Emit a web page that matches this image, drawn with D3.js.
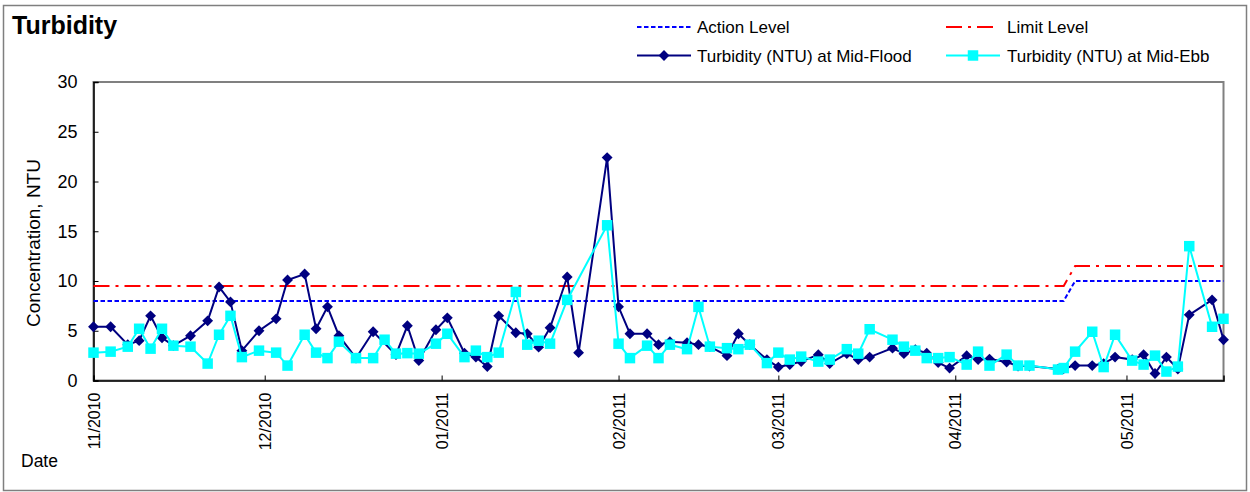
<!DOCTYPE html>
<html>
<head>
<meta charset="utf-8">
<script src="https://cdnjs.cloudflare.com/ajax/libs/d3/7.8.5/d3.min.js"></script>
<style>
  html, body { margin: 0; padding: 0; background: #fff; }
  svg { display: block; font-family: "Liberation Sans", Arial, sans-serif; }
</style>
</head>
<body>
<svg id="chart" width="1250" height="492"></svg>
<script>
// ---------- data ----------
const dates = [
  "2010-11-01","2010-11-04","2010-11-07","2010-11-09","2010-11-11","2010-11-13","2010-11-15","2010-11-18","2010-11-21","2010-11-23",
  "2010-11-25","2010-11-27","2010-11-30","2010-12-03","2010-12-05","2010-12-08","2010-12-10","2010-12-12","2010-12-14","2010-12-17",
  "2010-12-20","2010-12-22","2010-12-24","2010-12-26","2010-12-28","2010-12-31","2011-01-02","2011-01-05","2011-01-07","2011-01-09",
  "2011-01-11","2011-01-14","2011-01-16","2011-01-18","2011-01-20","2011-01-23","2011-01-25","2011-01-30","2011-02-01","2011-02-03",
  "2011-02-06","2011-02-08","2011-02-10","2011-02-13","2011-02-15","2011-02-17","2011-02-20","2011-02-22","2011-02-24","2011-02-27",
  "2011-03-01","2011-03-03","2011-03-05","2011-03-08","2011-03-10","2011-03-13","2011-03-15","2011-03-17","2011-03-21","2011-03-23",
  "2011-03-25","2011-03-27","2011-03-29","2011-03-31","2011-04-03","2011-04-05","2011-04-07","2011-04-10","2011-04-12","2011-04-14",
  "2011-04-19","2011-04-20","2011-04-22","2011-04-25","2011-04-27","2011-04-29","2011-05-02","2011-05-04","2011-05-06","2011-05-08",
  "2011-05-10","2011-05-12","2011-05-16","2011-05-18"
];
const floodValues = [
  5.4,5.4,3.6,4.0,6.5,4.3,3.5,4.5,6.0,9.4,
  7.9,3.0,5.0,6.2,10.1,10.7,5.2,7.4,4.5,2.25,
  4.9,null,2.6,5.5,2.0,5.1,6.3,2.75,2.35,1.4,
  6.5,4.8,4.7,3.35,5.3,10.4,2.8,22.4,7.4,4.7,
  4.7,3.6,3.9,3.8,3.6,3.4,2.5,4.7,3.6,2.1,
  1.35,1.6,1.9,2.6,1.7,2.7,2.1,2.35,3.25,2.7,
  3.1,2.75,1.8,1.25,2.5,2.1,2.15,1.85,1.45,1.45,
  1.15,1.2,1.5,1.5,1.7,2.35,2.1,2.6,0.7,2.35,
  1.15,6.6,8.1,4.1
];
const ebbValues = [
  2.8,2.9,3.4,5.2,3.2,5.2,3.5,3.4,1.7,4.6,
  6.5,2.35,3.0,2.8,1.5,4.6,2.8,2.25,3.9,2.25,
  2.25,4.1,2.7,2.75,2.7,3.7,4.7,2.35,3.0,2.35,
  2.8,8.9,3.6,4.0,3.7,8.1,null,15.6,3.7,2.25,
  3.5,2.25,3.6,3.15,7.4,3.4,3.25,3.15,3.6,1.75,
  2.8,2.1,2.4,1.9,2.1,3.15,2.7,5.15,4.1,3.4,
  3.0,2.25,2.25,2.35,1.6,2.9,1.5,2.6,1.5,1.5,
  1.1,1.25,2.9,4.9,1.35,4.6,2.0,1.6,2.5,0.9,
  1.4,13.5,5.4,6.2
];
const levelDates = ["2010-11-01","2011-04-20","2011-04-22","2011-05-18"];
const actionLevel = [8, 8, 10, 10];
const limitLevel = [9.5, 9.5, 11.5, 11.5];
const yTicks = [0, 5, 10, 15, 20, 25, 30];
const xDomain = ["2010-11-01", "2011-05-18"];
const legendLabels = ["Action Level", "Limit Level", "Turbidity (NTU) at Mid-Flood", "Turbidity (NTU) at Mid-Ebb"];

// ---------- chart ----------
(function () {
const parse = d3.timeParse("%Y-%m-%d");
const svg = d3.select("#chart");
const pL = 93.5, pR = 1223.5, pT = 82, pB = 380.5;

const x = d3.scaleTime().domain(xDomain.map(parse)).range([pL, pR]);
const y = d3.scaleLinear().domain([0, 30]).range([pB, pT]);

// outer frame
svg.append("rect").attr("x", 3.5).attr("y", 5.5).attr("width", 1243).attr("height", 485)
  .attr("fill", "#fff").attr("stroke", "#7f7f7f").attr("stroke-width", 1.5);

// plot area border
svg.append("rect").attr("x", pL).attr("y", pT).attr("width", pR - pL).attr("height", pB - pT)
  .attr("fill", "none").attr("stroke", "#808080").attr("stroke-width", 2);

// title
svg.append("text").attr("x", 12).attr("y", 34).attr("font-size", 25).attr("font-weight", "bold")
  .attr("fill", "#000").text("Turbidity");

// y axis
const yAxis = d3.axisLeft(y).tickValues(yTicks).tickSize(-5).tickPadding(16).tickFormat(d3.format("d"));
const gy = svg.append("g").attr("transform", `translate(${pL},0)`).call(yAxis);
gy.select(".domain").attr("stroke", "#000").attr("stroke-width", 1.5);
gy.selectAll(".tick line").attr("stroke", "#000");
gy.selectAll(".tick text").attr("font-size", 18).attr("font-family", "Liberation Sans, Arial, sans-serif").attr("fill", "#000");

// x axis
const xAxis = d3.axisBottom(x).ticks(d3.timeMonth.every(1)).tickSize(-5).tickFormat(d3.timeFormat("%m/%Y"));
const gx = svg.append("g").attr("transform", `translate(0,${pB})`).call(xAxis);
gx.select(".domain").attr("stroke", "#000").attr("stroke-width", 1.5);
gx.selectAll(".tick line").attr("stroke", "#000");
gx.selectAll(".tick text")
  .attr("font-size", 16).attr("font-family", "Liberation Sans, Arial, sans-serif").attr("fill", "#000")
  .attr("text-anchor", "end")
  .attr("transform", "translate(0,12) rotate(-90)")
  .attr("x", 0).attr("y", 0).attr("dy", "0.35em");

// axis titles
svg.append("text").attr("transform", "translate(40,243) rotate(-90)").attr("text-anchor", "middle")
  .attr("font-size", 19).attr("fill", "#000").text("Concentration, NTU");
svg.append("text").attr("x", 21).attr("y", 467).attr("font-size", 17.5).attr("fill", "#000").text("Date");

// level lines
const levelLine = d3.line().x(d => x(d.date)).y(d => y(d.v));
const actionData = levelDates.map((d, i) => ({ date: parse(d), v: actionLevel[i] }));
const limitData = levelDates.map((d, i) => ({ date: parse(d), v: limitLevel[i] }));
svg.append("path").datum(actionData).attr("d", levelLine).attr("fill", "none")
  .attr("stroke", "#0000ff").attr("stroke-width", 2).attr("stroke-dasharray", "4.5,2.5");
svg.append("path").datum(limitData).attr("d", levelLine).attr("fill", "none")
  .attr("stroke", "#ff0000").attr("stroke-width", 2).attr("stroke-dasharray", "16,6,3,6");

// series
const floodData = dates.map((d, i) => ({ date: parse(d), v: floodValues[i] })).filter(d => d.v !== null);
const ebbData = dates.map((d, i) => ({ date: parse(d), v: ebbValues[i] })).filter(d => d.v !== null);
const line = d3.line().x(d => x(d.date)).y(d => y(d.v));

const floodColor = "#000080", ebbColor = "#00ffff";
const diamond = d3.symbol().type(d3.symbolDiamond2).size(75);
const square = d3.symbol().type(d3.symbolSquare).size(110);

svg.append("path").datum(floodData).attr("d", line).attr("fill", "none").attr("stroke", floodColor).attr("stroke-width", 2);
svg.append("g").selectAll("path").data(floodData).join("path")
  .attr("transform", d => `translate(${x(d.date)},${y(d.v)})`).attr("d", diamond).attr("fill", floodColor);

svg.append("path").datum(ebbData).attr("d", line).attr("fill", "none").attr("stroke", ebbColor).attr("stroke-width", 2);
svg.append("g").selectAll("path").data(ebbData).join("path")
  .attr("transform", d => `translate(${x(d.date)},${y(d.v)})`).attr("d", square).attr("fill", ebbColor);

// legend
const lg = svg.append("g").attr("font-size", 17).attr("fill", "#000");
const r1 = 27, r2 = 55.5;
lg.append("line").attr("x1", 637).attr("x2", 691).attr("y1", r1).attr("y2", r1)
  .attr("stroke", "#0000ff").attr("stroke-width", 2).attr("stroke-dasharray", "4.5,2.5");
lg.append("text").attr("x", 697).attr("y", r1 + 6).text(legendLabels[0]);
lg.append("line").attr("x1", 946).attr("x2", 994).attr("y1", r1).attr("y2", r1)
  .attr("stroke", "#ff0000").attr("stroke-width", 2).attr("stroke-dasharray", "16,6,3,6");
lg.append("text").attr("x", 1007).attr("y", r1 + 6).text(legendLabels[1]);
lg.append("line").attr("x1", 637).attr("x2", 691).attr("y1", r2).attr("y2", r2)
  .attr("stroke", floodColor).attr("stroke-width", 2);
lg.append("path").attr("transform", `translate(664,${r2})`).attr("d", diamond).attr("fill", floodColor);
lg.append("text").attr("x", 697).attr("y", r2 + 6).text(legendLabels[2]);
lg.append("line").attr("x1", 946).attr("x2", 1000).attr("y1", r2).attr("y2", r2)
  .attr("stroke", ebbColor).attr("stroke-width", 2);
lg.append("path").attr("transform", `translate(973,${r2})`).attr("d", square).attr("fill", ebbColor);
lg.append("text").attr("x", 1007).attr("y", r2 + 6).text(legendLabels[3]);
})();
</script>
</body>
</html>
